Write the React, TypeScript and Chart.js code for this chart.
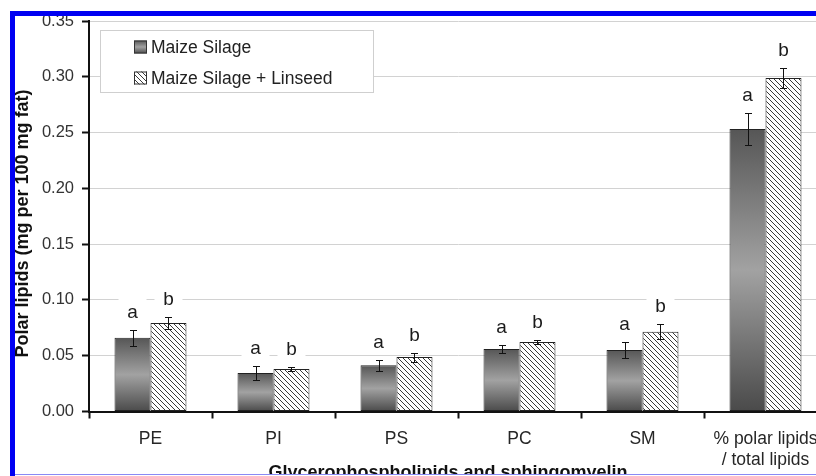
import React, { useEffect, useRef } from 'react';
import { Chart, registerables } from 'chart.js';

Chart.register(...registerables);

// ---------- data ----------
const categories: (string | string[])[] = ['PE', 'PI', 'PS', 'PC', 'SM', ['% polar lipids', '/ total lipids']];
const seriesNames = ['Maize Silage', 'Maize Silage + Linseed'];
const maizeSilage = [0.066, 0.0345, 0.0414, 0.056, 0.0551, 0.2531];
const maizeSilageErr = [0.0073, 0.006, 0.005, 0.0033, 0.0075, 0.014];
const maizeLinseed = [0.0793, 0.0381, 0.0488, 0.0623, 0.0715, 0.2988];
const maizeLinseedErr = [0.005, 0.0022, 0.004, 0.0018, 0.0067, 0.0087];
const lettersSilage = ['a', 'a', 'a', 'a', 'a', 'a'];
const lettersLinseed = ['b', 'b', 'b', 'b', 'b', 'b'];
const yMin = 0;
const yMax = 0.35;
const yStep = 0.05;
const xTitle = 'Glycerophospholipids and sphingomyelin';
const yTitle = 'Polar lipids (mg per 100 mg fat)';

const FONT = "'Liberation Sans', Arial, Helvetica, sans-serif";

function makeHatch(ctx: CanvasRenderingContext2D): CanvasPattern | string {
  const s = 5;
  const c = document.createElement('canvas');
  c.width = s;
  c.height = s;
  const g = c.getContext('2d');
  if (!g) return '#ddd';
  g.fillStyle = '#ffffff';
  g.fillRect(0, 0, s, s);
  g.strokeStyle = '#3a3a3a';
  g.lineWidth = 1;
  g.beginPath();
  g.moveTo(0, 0);
  g.lineTo(s, s);
  g.moveTo(-1, s - 1);
  g.lineTo(1, s + 1);
  g.moveTo(s - 1, -1);
  g.lineTo(s + 1, 1);
  g.stroke();
  return ctx.createPattern(c, 'repeat') || '#ddd';
}

function grayGradient(ctx: CanvasRenderingContext2D, top: number, bottom: number) {
  if (!isFinite(top) || !isFinite(bottom) || top === bottom) return '#888888';
  const g = ctx.createLinearGradient(0, top, 0, bottom);
  g.addColorStop(0, '#565656');
  g.addColorStop(0.5, '#a2a2a2');
  g.addColorStop(1, '#4a4a4a');
  return g;
}

const errors = [maizeSilageErr, maizeLinseedErr];
const letters = [lettersSilage, lettersLinseed];
const LETTER_OFFSET = 13;

const annotatePlugin = {
  id: 'annotate',
  beforeDatasetsDraw(chart: any) {
    const ctx = chart.ctx;
    const y = chart.scales.y;
    ctx.save();
    ctx.fillStyle = '#ffffff';
    chart.data.datasets.forEach((ds: any, i: number) => {
      const meta = chart.getDatasetMeta(i);
      meta.data.forEach((bar: any, j: number) => {
        const v = ds.data[j] as number;
        const top = y.getPixelForValue(v + errors[i][j]);
        const base = top - LETTER_OFFSET;
        ctx.fillRect(bar.x - 14, base - 23, 28, 30);
      });
    });
    ctx.restore();
  },
  afterDatasetsDraw(chart: any) {
    const ctx = chart.ctx;
    const y = chart.scales.y;
    ctx.save();
    chart.data.datasets.forEach((ds: any, i: number) => {
      const meta = chart.getDatasetMeta(i);
      meta.data.forEach((bar: any, j: number) => {
        const v = ds.data[j] as number;
        const e = errors[i][j];
        const yt = Math.round(y.getPixelForValue(v + e)) + 0.5;
        const yb = Math.round(y.getPixelForValue(v - e)) + 0.5;
        const x = Math.round(bar.x) + 0.5;
        ctx.strokeStyle = '#111';
        ctx.lineWidth = 1;
        ctx.beginPath();
        ctx.moveTo(x, yt);
        ctx.lineTo(x, yb);
        ctx.moveTo(x - 3.5, yt);
        ctx.lineTo(x + 3.5, yt);
        ctx.moveTo(x - 3.5, yb);
        ctx.lineTo(x + 3.5, yb);
        ctx.stroke();
        ctx.fillStyle = '#1a1a1a';
        ctx.font = `19px ${FONT}`;
        ctx.textAlign = 'center';
        ctx.textBaseline = 'alphabetic';
        ctx.fillText(letters[i][j], bar.x, yt - LETTER_OFFSET);
      });
    });
    ctx.restore();
  },
  afterDraw(chart: any) {
    const ctx = chart.ctx;
    ctx.save();
    // legend box
    ctx.fillStyle = '#ffffff';
    ctx.fillRect(100.5, 30.5, 273, 62);
    ctx.strokeStyle = '#cfcfcf';
    ctx.lineWidth = 1;
    ctx.strokeRect(100.5, 30.5, 273, 62);
    const rows = [47, 78];
    rows.forEach((cy, i) => {
      const x0 = 134;
      const y0 = cy - 6.5;
      ctx.fillStyle = i === 0 ? grayGradient(ctx, y0, y0 + 13) : (chart.$hatch || '#ccc');
      ctx.fillRect(x0, y0, 13, 13);
      ctx.strokeStyle = '#333';
      ctx.strokeRect(x0 + 0.5, y0 + 0.5, 12, 12);
      ctx.fillStyle = '#222';
      ctx.font = `17.5px ${FONT}`;
      ctx.textAlign = 'left';
      ctx.textBaseline = 'middle';
      ctx.fillText(seriesNames[i], 151, cy + 1);
    });
    // axis titles
    ctx.fillStyle = '#111';
    ctx.font = `bold 18px ${FONT}`;
    ctx.textAlign = 'center';
    ctx.textBaseline = 'alphabetic';
    ctx.fillText(xTitle, 448, 478);
    ctx.translate(28, 223.5);
    ctx.rotate(-Math.PI / 2);
    ctx.fillText(yTitle, 0, 0);
    ctx.restore();
  },
};

export default function App() {
  const ref = useRef<HTMLCanvasElement | null>(null);

  useEffect(() => {
    const canvas = ref.current;
    if (!canvas) return;
    const ctx2d = canvas.getContext('2d') as CanvasRenderingContext2D;
    const hatch = makeHatch(ctx2d);

    const chart: any = new Chart(canvas, {
      type: 'bar',
      data: {
        labels: categories as any,
        datasets: [
          {
            label: seriesNames[0],
            data: maizeSilage,
            backgroundColor: (c: any) => {
              const ch = c.chart;
              const ys = ch.scales && ch.scales.y;
              if (c.type !== 'data' || !ys || typeof c.raw !== 'number') return '#888';
              const top = ys.getPixelForValue(c.raw as number);
              const bot = ys.getPixelForValue(0);
              return grayGradient(ch.ctx, top, bot);
            },
            borderColor: '#222',
            borderWidth: 1,
            borderSkipped: false,
          },
          {
            label: seriesNames[1],
            data: maizeLinseed,
            backgroundColor: hatch as any,
            borderColor: '#222',
            borderWidth: 1,
            borderSkipped: false,
          },
        ],
      },
      options: {
        responsive: false,
        animation: false,
        devicePixelRatio: 1,
        categoryPercentage: 0.585,
        barPercentage: 1.0,
        layout: { padding: { left: 0, top: 21, right: 13, bottom: 28.5 } },
        plugins: {
          legend: { display: false },
          tooltip: { enabled: false },
          title: { display: false },
        },
        scales: {
          x: {
            offset: true,
            grid: {
              offset: true,
              drawOnChartArea: false,
              drawTicks: true,
              tickLength: 7,
              tickColor: '#111',
              tickWidth: 2,
            },
            border: { display: true, color: '#111', width: 2 },
            ticks: {
              color: '#262626',
              padding: 10,
              maxRotation: 0,
              autoSkip: false,
              font: { family: FONT, size: 17.5, lineHeight: 1.22 },
            },
            afterFit: (s: any) => {
              s.height = 60;
            },
          },
          y: {
            min: yMin,
            max: yMax,
            grid: {
              color: '#d2d2d2',
              lineWidth: 1,
              drawTicks: true,
              tickLength: 7,
              tickColor: '#111',
              tickWidth: 2,
            },
            border: { display: true, color: '#111', width: 2 },
            ticks: {
              stepSize: yStep,
              color: '#333',
              padding: 8,
              font: { family: FONT, size: 16.5 },
              callback: (v: any) => Number(v).toFixed(2),
            },
            afterFit: (s: any) => {
              s.width = 89;
            },
          },
        },
      },
      plugins: [annotatePlugin],
    } as any);
    chart.$hatch = hatch;
    chart.draw();

    return () => {
      chart.destroy();
    };
  }, []);

  return (
    <div
      style={{
        position: 'fixed',
        left: 0,
        top: 0,
        width: 816,
        height: 476,
        overflow: 'hidden',
        background: '#fff',
      }}
    >
      <canvas ref={ref} width={840} height={500} style={{ position: 'absolute', left: 0, top: 0, width: 840, height: 500 }} />
      <div style={{ position: 'absolute', left: 0, top: 0, width: 10, height: 476, background: '#fff' }} />
      <div style={{ position: 'absolute', left: 0, top: 0, width: 816, height: 11, background: '#fff' }} />
      <div style={{ position: 'absolute', left: 10, top: 11, width: 5, height: 465, background: '#0000f2' }} />
      <div style={{ position: 'absolute', left: 10, top: 11, width: 806, height: 5, background: '#0000f2' }} />
      <div style={{ position: 'absolute', left: 15, top: 474, width: 801, height: 1, background: '#8a8af5' }} />
      <div style={{ position: 'absolute', left: 15, top: 475, width: 801, height: 1, background: '#fff' }} />
    </div>
  );
}
